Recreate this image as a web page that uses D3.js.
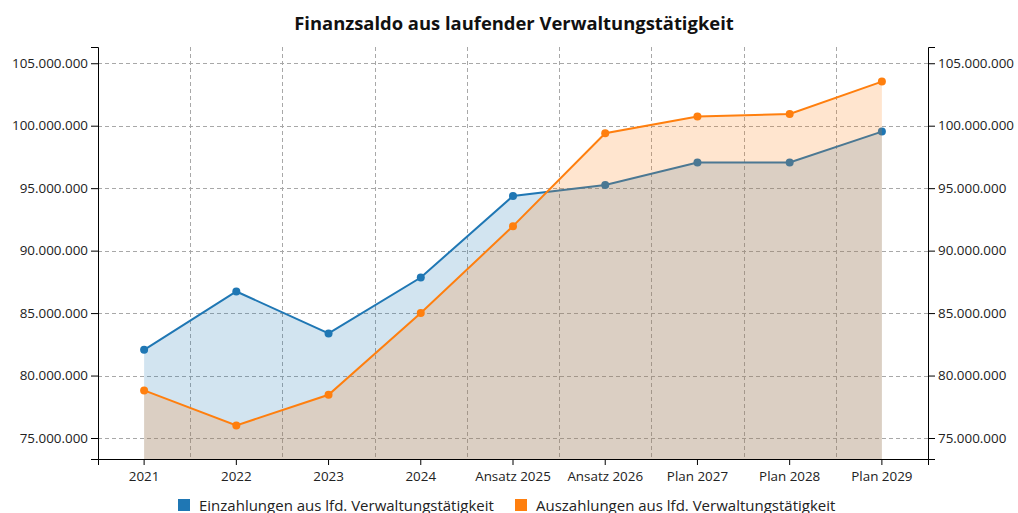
<!DOCTYPE html>
<html>
<head>
<meta charset="utf-8">
<script src="https://cdn.jsdelivr.net/npm/d3@7"></script>
<style>
  body { margin: 0; background: #fff; }
  svg { display: block; font-family: "Open Sans", sans-serif; }
</style>
</head>
<body>
<svg id="chart" width="1018" height="513"></svg>
<script>
const kategorien = ["2021", "2022", "2023", "2024", "Ansatz 2025", "Ansatz 2026", "Plan 2027", "Plan 2028", "Plan 2029"];
const einzahlungen = [82060000, 86730000, 83370000, 87850000, 94380000, 95260000, 97050000, 97050000, 99530000];
const auszahlungen = [78810000, 76010000, 78460000, 85000000, 91960000, 99400000, 100730000, 100940000, 103530000];
const yTicks = [75000000, 80000000, 85000000, 90000000, 95000000, 100000000, 105000000];
const serien = [
  { name: "Einzahlungen aus lfd. Verwaltungstätigkeit", werte: einzahlungen, color: "#1f77b4" },
  { name: "Auszahlungen aus lfd. Verwaltungstätigkeit", werte: auszahlungen, color: "#ff7f0e" }
];

const svg = d3.select("#chart"),
    mLeft = 98, mRight = 928, mTop = 47, mBottom = 459;

const de = d3.formatLocale({ decimal: ",", thousands: ".", grouping: [3], currency: ["", " €"] });
const fmt = de.format(",.0f");

const x = d3.scaleBand().domain(kategorien).range([mLeft, mRight]);
const y = d3.scaleLinear().domain([73320000, 106300000]).range([mBottom, mTop]);
const cx = d => x(d) + x.bandwidth() / 2;

// grid
const grid = svg.append("g").attr("stroke", "#a8a8a8").attr("stroke-dasharray", "4,3").attr("stroke-width", 1);
grid.selectAll(".h").data(yTicks).enter().append("line")
  .attr("x1", mLeft).attr("x2", mRight)
  .attr("y1", d => Math.round(y(d)) + 0.5).attr("y2", d => Math.round(y(d)) + 0.5);
grid.selectAll(".v").data(kategorien.slice(1)).enter().append("line")
  .attr("x1", d => Math.round(x(d)) + 0.5).attr("x2", d => Math.round(x(d)) + 0.5)
  .attr("y1", mTop).attr("y2", mBottom);

// series
serien.forEach(s => {
  const pts = kategorien.map((k, i) => [k, s.werte[i]]);
  const area = d3.area().x(d => cx(d[0])).y0(mBottom).y1(d => y(d[1]));
  const line = d3.line().x(d => cx(d[0])).y(d => y(d[1]));
  svg.append("path").datum(pts).attr("d", area).attr("fill", s.color).attr("fill-opacity", 0.2);
  svg.append("path").datum(pts).attr("d", line).attr("fill", "none").attr("stroke", s.color).attr("stroke-width", 2);
  svg.append("g").selectAll("circle").data(pts).enter().append("circle")
    .attr("cx", d => cx(d[0])).attr("cy", d => y(d[1])).attr("r", 4).attr("fill", s.color);
});

// axes
const styleAxis = g => {
  g.selectAll("path, line").attr("stroke", "#000");
  g.selectAll("text").attr("fill", "#222").style("font-size", "13.4px").style("font-family", "'Open Sans', sans-serif");
};
svg.append("g").attr("transform", `translate(${mLeft},0)`)
  .call(d3.axisLeft(y).tickValues(yTicks).tickFormat(fmt).tickSize(7).tickSizeOuter(7).tickPadding(3))
  .call(styleAxis);
svg.append("g").attr("transform", `translate(${mRight},0)`)
  .call(d3.axisRight(y).tickValues(yTicks).tickFormat(fmt).tickSize(7).tickSizeOuter(7).tickPadding(3))
  .call(styleAxis);
svg.append("g").attr("transform", `translate(0,${mBottom})`)
  .call(d3.axisBottom(x).tickSize(6).tickSizeOuter(6).tickPadding(6))
  .call(styleAxis);

// title
svg.append("text").attr("x", 514).attr("y", 30).attr("text-anchor", "middle")
  .attr("font-weight", "bold").attr("font-size", 18.4).attr("fill", "#111")
  .text("Finanzsaldo aus laufender Verwaltungstätigkeit");

// legend
const legendX = [178, 515];
const lg = svg.append("g").selectAll("g").data(serien).enter().append("g")
  .attr("transform", (d, i) => `translate(${legendX[i]},499)`);
lg.append("rect").attr("width", 12).attr("height", 12).attr("fill", d => d.color);
lg.append("text").attr("x", 21).attr("y", 12).attr("font-size", 15).attr("fill", "#222").text(d => d.name);
</script>
</body>
</html>
